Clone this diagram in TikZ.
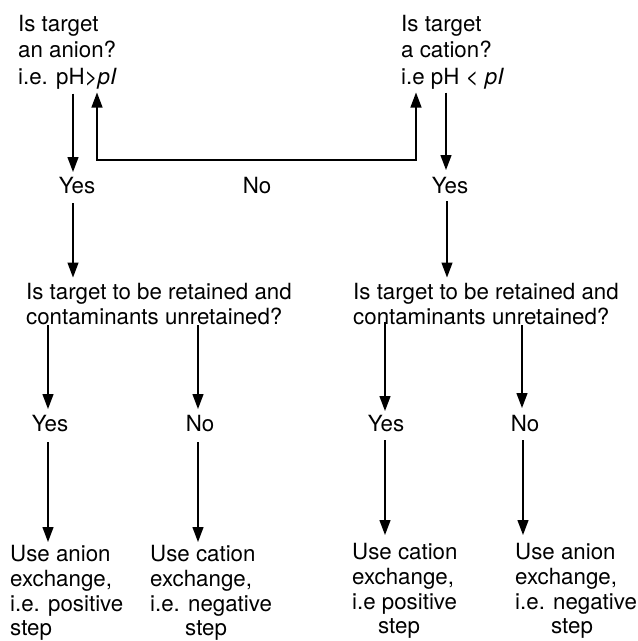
\documentclass[tikz,border=0pt]{standalone}
\usepackage{fontspec}
\setmainfont{TeX Gyre Heros}
\usetikzlibrary{arrows.meta}
\begin{document}
\begin{tikzpicture}[x=1pt,y=-1pt,
  txt/.style={inner sep=0pt, align=left, anchor=north west, font=\fontsize{22.3}{25}\selectfont},
  toptxt/.style={txt, font=\fontsize{22.3}{26.5}\selectfont},
  bottxt/.style={txt, font=\fontsize{22.3}{24.8}\selectfont},
  lbl/.style={inner sep=0pt, font=\fontsize{22.3}{25}\selectfont},
  arr/.style={-{Triangle[length=15pt,width=11pt]}, line width=1.3pt},
  darr/.style={{Triangle[length=15pt,width=11pt]}-{Triangle[length=15pt,width=11pt]}, line width=1.3pt}]
\useasboundingbox (0,0) rectangle (638,641);
% top questions
\node[toptxt] (q1) at (18,15) {Is target\\an anion?\\i.e. pH>\textit{pI}};
\node[toptxt] (q2) at (401,15) {Is target\\a cation?\\i.e pH < \textit{pI}};
% first labels
\node[lbl] (y1) at (77,185.5) {Yes};
\node[lbl] (n0) at (257,185.5) {No};
\node[lbl] (y2) at (450,185.5) {Yes};
% middle questions
\node[txt] (m1) at (26,283.5) {Is target to be retained and\\contaminants unretained?};
\node[txt] (m2) at (353,283.5) {Is target to be retained and\\contaminants unretained?};
% second labels
\node[lbl] (y3) at (50,423.5) {Yes};
\node[lbl] (n3) at (200,423.5) {No};
\node[lbl] (y4) at (386,423.5) {Yes};
\node[lbl] (n4) at (525,423.5) {No};
% bottom outcomes
\node[bottxt] (b1) at (10,545) {Use anion\\exchange,\\i.e. positive\\step};
\node[bottxt] (b2) at (150,545) {Use cation\\exchange,\\i.e. negative\\\hspace*{35pt}step};
\node[bottxt] (b3) at (352,543) {Use cation\\exchange,\\i.e positive\\\hspace*{26pt}step};
\node[bottxt] (b4) at (515,543) {Use anion\\exchange,\\i.e. negative\\\hspace*{36pt}step};
% connectors
\coordinate (nl) at (97,160);
\coordinate (nr) at (416,160);
\draw[arr, shorten <=4pt, shorten >=5pt] (73,0 |- q1.south) -- (73,0 |- y1.north);
\draw[darr, shorten <=3pt, shorten >=3pt] (q1.south -| nl) -- (nl) -- (nr) -- (q2.south -| nr);
\draw[arr, shorten <=3pt, shorten >=7pt] (446,0 |- q2.south) -- (446,0 |- y2.north);
\draw[arr, shorten <=9pt, shorten >=6pt] (73,0 |- y1.south) -- (73,0 |- m1.north);
\draw[arr, shorten <=7pt, shorten >=6pt] (447,0 |- y2.south) -- (447,0 |- m2.north);
\draw[arr, shorten >=6pt] (48,0 |- m1.south) -- (48,0 |- y3.north);
\draw[arr, shorten >=6pt] (198,0 |- m1.south) -- (198,0 |- n3.north);
\draw[arr, shorten <=-3pt, shorten >=4pt] (385,0 |- m2.south) -- (385,0 |- y4.north);
\draw[arr, shorten >=7pt] (522,0 |- m2.south) -- (522,0 |- n4.north);
\draw[arr, shorten <=10pt, shorten >=3pt] (48,0 |- y3.south) -- (48,0 |- b1.north);
\draw[arr, shorten <=10pt, shorten >=3pt] (198,0 |- n3.south) -- (198,0 |- b2.north);
\draw[arr, shorten <=8pt, shorten >=8pt] (385,0 |- y4.south) -- (385,0 |- b3.north);
\draw[arr, shorten <=8pt, shorten >=8pt] (523,0 |- n4.south) -- (523,0 |- b4.north);
\end{tikzpicture}
\end{document}
